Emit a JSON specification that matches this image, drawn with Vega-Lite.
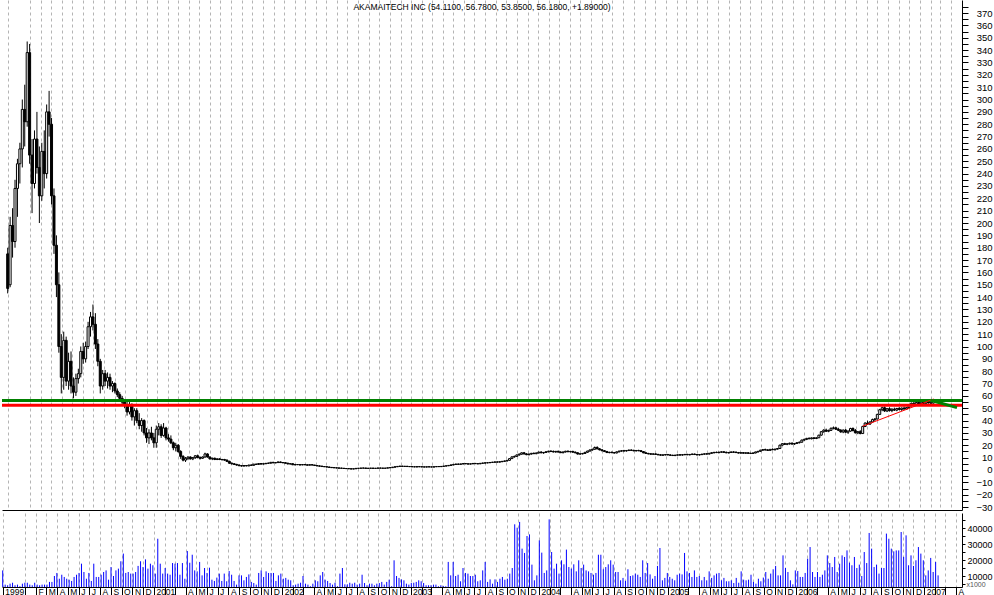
{
"$schema":"https://vega.github.io/schema/vega-lite/v6.json",
"padding":0,
"autosize":{"type":"pad"},
"spacing":1,
"config":{"view":{"stroke":null},"axis":{"labelOverlap":false,"gridColor":"#b4b4b4","gridDash":[3,3],"gridWidth":1,"domainColor":"#000000","domainWidth":1,"tickColor":"#000000","labelColor":"#000000","labelFont":"Liberation Sans","labelFontSize":9}},
"datasets":{
"levels":[{"level":56.2,"line":"resistance"},{"level":52.4,"line":"support"}],
"trend":[{"d":"2006-07-21","p":35.5,"line":"uptrend"},{"d":"2007-02-10","p":57.5,"line":"uptrend"},{"d":"2007-02-01","p":56.5,"line":"projection"},{"d":"2007-04-18","p":50.5,"line":"projection"}],
"weekly":[
{"d":"1999-10-29","o":175,"h":180,"l":143,"c":147,"v":13500},
{"d":"1999-11-05","o":150,"h":205,"l":148,"c":198,"v":4600},
{"d":"1999-11-12","o":198,"h":212,"l":172,"c":185,"v":4200},
{"d":"1999-11-19","o":185,"h":235,"l":180,"c":228,"v":5200},
{"d":"1999-11-26","o":228,"h":252,"l":205,"c":248,"v":5800},
{"d":"1999-12-03","o":248,"h":265,"l":232,"c":260,"v":4200},
{"d":"1999-12-10","o":260,"h":300,"l":245,"c":292,"v":4600},
{"d":"1999-12-17","o":292,"h":312,"l":262,"c":282,"v":3600},
{"d":"1999-12-24","o":282,"h":347,"l":278,"c":338,"v":5200},
{"d":"1999-12-31","o":338,"h":345,"l":248,"c":255,"v":5800},
{"d":"2000-01-07","o":255,"h":268,"l":208,"c":232,"v":5800},
{"d":"2000-01-14","o":232,"h":275,"l":228,"c":268,"v":4600},
{"d":"2000-01-21","o":268,"h":290,"l":240,"c":245,"v":4200},
{"d":"2000-01-28","o":245,"h":262,"l":200,"c":222,"v":5800},
{"d":"2000-02-04","o":222,"h":265,"l":218,"c":258,"v":4600},
{"d":"2000-02-11","o":258,"h":275,"l":228,"c":240,"v":4200},
{"d":"2000-02-18","o":240,"h":296,"l":236,"c":290,"v":4600},
{"d":"2000-02-25","o":290,"h":307,"l":270,"c":280,"v":4600},
{"d":"2000-03-03","o":280,"h":285,"l":215,"c":222,"v":4600},
{"d":"2000-03-10","o":222,"h":228,"l":175,"c":182,"v":6300},
{"d":"2000-03-17","o":182,"h":190,"l":140,"c":150,"v":6300},
{"d":"2000-03-24","o":150,"h":160,"l":95,"c":100,"v":10000},
{"d":"2000-03-31","o":100,"h":110,"l":62,"c":75,"v":11900},
{"d":"2000-04-07","o":75,"h":112,"l":65,"c":105,"v":8300},
{"d":"2000-04-14","o":105,"h":108,"l":68,"c":72,"v":10800},
{"d":"2000-04-21","o":72,"h":95,"l":65,"c":88,"v":9400},
{"d":"2000-04-28","o":88,"h":96,"l":62,"c":68,"v":8300},
{"d":"2000-05-05","o":68,"h":75,"l":58,"c":63,"v":7700},
{"d":"2000-05-12","o":63,"h":78,"l":60,"c":74,"v":6900},
{"d":"2000-05-19","o":74,"h":82,"l":70,"c":78,"v":9400},
{"d":"2000-05-26","o":78,"h":100,"l":75,"c":96,"v":10800},
{"d":"2000-06-02","o":96,"h":103,"l":86,"c":90,"v":11900},
{"d":"2000-06-09","o":90,"h":104,"l":87,"c":100,"v":17700},
{"d":"2000-06-16","o":100,"h":120,"l":98,"c":116,"v":12500},
{"d":"2000-06-23","o":116,"h":128,"l":108,"c":124,"v":8300},
{"d":"2000-06-30","o":124,"h":134,"l":113,"c":118,"v":11900},
{"d":"2000-07-07","o":118,"h":127,"l":98,"c":102,"v":6900},
{"d":"2000-07-14","o":102,"h":106,"l":84,"c":88,"v":17700},
{"d":"2000-07-21","o":88,"h":90,"l":62,"c":68,"v":9400},
{"d":"2000-07-28","o":68,"h":81,"l":65,"c":78,"v":9400},
{"d":"2000-08-04","o":78,"h":81,"l":68,"c":72,"v":10800},
{"d":"2000-08-11","o":72,"h":79,"l":66,"c":75,"v":12500},
{"d":"2000-08-18","o":75,"h":78,"l":65,"c":68,"v":13500},
{"d":"2000-08-25","o":68,"h":72,"l":63,"c":70,"v":7700},
{"d":"2000-09-01","o":70,"h":71,"l":62,"c":64,"v":15600},
{"d":"2000-09-08","o":64,"h":66,"l":59,"c":61,"v":10000},
{"d":"2000-09-15","o":61,"h":63,"l":57,"c":58,"v":13500},
{"d":"2000-09-22","o":58,"h":60,"l":52,"c":55,"v":14600},
{"d":"2000-09-29","o":55,"h":57,"l":50,"c":53,"v":19200},
{"d":"2000-10-06","o":53,"h":56,"l":44,"c":47,"v":24000},
{"d":"2000-10-13","o":47,"h":55,"l":45,"c":52,"v":11900},
{"d":"2000-10-20","o":52,"h":54,"l":40,"c":43,"v":12500},
{"d":"2000-10-27","o":43,"h":50,"l":36,"c":48,"v":11500},
{"d":"2000-11-03","o":48,"h":50,"l":38,"c":40,"v":11500},
{"d":"2000-11-10","o":40,"h":46,"l":33,"c":36,"v":12500},
{"d":"2000-11-17","o":36,"h":42,"l":31,"c":40,"v":16300},
{"d":"2000-11-24","o":40,"h":41,"l":28,"c":30,"v":19200},
{"d":"2000-12-01","o":30,"h":34,"l":22,"c":26,"v":15600},
{"d":"2000-12-08","o":26,"h":33,"l":21,"c":30,"v":20400},
{"d":"2000-12-15","o":30,"h":35,"l":24,"c":26,"v":14600},
{"d":"2000-12-22","o":26,"h":30,"l":18,"c":22,"v":17700},
{"d":"2000-12-29","o":22,"h":36,"l":18,"c":33,"v":16700},
{"d":"2001-01-05","o":33,"h":38,"l":28,"c":35,"v":11500},
{"d":"2001-01-12","o":35,"h":37,"l":26,"c":28,"v":33300},
{"d":"2001-01-19","o":28,"h":38,"l":27,"c":34,"v":17700},
{"d":"2001-01-26","o":34,"h":35,"l":24,"c":26,"v":11500},
{"d":"2001-02-02","o":26,"h":29,"l":23,"c":25,"v":15000},
{"d":"2001-02-09","o":25,"h":28,"l":21,"c":22,"v":11500},
{"d":"2001-02-16","o":22,"h":23,"l":16,"c":18,"v":10800},
{"d":"2001-02-23","o":18,"h":22,"l":15,"c":20,"v":18100},
{"d":"2001-03-02","o":20,"h":21,"l":14,"c":15,"v":17700},
{"d":"2001-03-09","o":15,"h":16,"l":9,"c":11,"v":18100},
{"d":"2001-03-16","o":11,"h":12,"l":7,"c":8,"v":10800},
{"d":"2001-03-23","o":8,"h":10.5,"l":6.5,"c":9.5,"v":18100},
{"d":"2001-03-30","o":9.5,"h":11,"l":8,"c":10.5,"v":8300},
{"d":"2001-04-06","o":10.5,"h":11,"l":8.5,"c":9,"v":25600},
{"d":"2001-04-13","o":9,"h":10.5,"l":8,"c":10,"v":18300},
{"d":"2001-04-20","o":10,"h":12,"l":9,"c":11.5,"v":23300},
{"d":"2001-04-27","o":11.5,"h":12.5,"l":9.5,"c":10,"v":13500},
{"d":"2001-05-04","o":10,"h":11,"l":8.5,"c":9.5,"v":12900},
{"d":"2001-05-11","o":9.5,"h":11,"l":9,"c":10.5,"v":18800},
{"d":"2001-05-18","o":10.5,"h":14,"l":10,"c":13,"v":10400},
{"d":"2001-05-25","o":13,"h":13.5,"l":10,"c":10.5,"v":15000},
{"d":"2001-06-01","o":10.5,"h":11,"l":8.5,"c":9,"v":11900},
{"d":"2001-06-08","o":9,"h":10,"l":8,"c":9.5,"v":15200},
{"d":"2001-06-15","o":9.5,"h":10,"l":8,"c":8.5,"v":7700},
{"d":"2001-06-22","o":8.5,"h":9.5,"l":8,"c":9,"v":6900},
{"d":"2001-06-29","o":9,"h":9.5,"l":8,"c":8.5,"v":9000},
{"d":"2001-07-06","o":8.5,"h":9,"l":7.5,"c":8.5,"v":11500},
{"d":"2001-07-13","o":8.5,"h":9,"l":7.5,"c":8,"v":6900},
{"d":"2001-07-20","o":8,"h":8.5,"l":6.5,"c":7,"v":11500},
{"d":"2001-07-27","o":7,"h":7.5,"l":5,"c":5.5,"v":6700},
{"d":"2001-08-03","o":5.5,"h":6,"l":4.5,"c":5,"v":13100},
{"d":"2001-08-10","o":5,"h":5.5,"l":4,"c":4.5,"v":10800},
{"d":"2001-08-17","o":4.5,"h":5,"l":3.5,"c":4,"v":6900},
{"d":"2001-08-24","o":4,"h":4.5,"l":3,"c":3.5,"v":4600},
{"d":"2001-08-31","o":3.5,"h":4,"l":2.8,"c":3.2,"v":10400},
{"d":"2001-09-07","o":3.2,"h":4,"l":2.9,"c":3.6,"v":10400},
{"d":"2001-09-14","o":3.6,"h":4,"l":3,"c":3.3,"v":7300},
{"d":"2001-09-21","o":3.3,"h":4.2,"l":3.1,"c":4,"v":9400},
{"d":"2001-09-28","o":4,"h":4.5,"l":3.5,"c":3.8,"v":11000},
{"d":"2001-10-05","o":3.8,"h":5,"l":3.6,"c":4.7,"v":6300},
{"d":"2001-10-12","o":4.7,"h":5.2,"l":4.2,"c":4.5,"v":5600},
{"d":"2001-10-19","o":4.5,"h":5.5,"l":4.3,"c":5.2,"v":4600},
{"d":"2001-10-26","o":5.2,"h":5.5,"l":4.5,"c":4.8,"v":11900},
{"d":"2001-11-02","o":4.8,"h":5.4,"l":4.5,"c":5.1,"v":13500},
{"d":"2001-11-09","o":5.1,"h":5.6,"l":4.7,"c":5.4,"v":9400},
{"d":"2001-11-16","o":5.4,"h":6,"l":5,"c":5.5,"v":12900},
{"d":"2001-11-23","o":5.5,"h":6.5,"l":5.2,"c":6.2,"v":11900},
{"d":"2001-11-30","o":6.2,"h":6.6,"l":5.5,"c":5.8,"v":11900},
{"d":"2001-12-07","o":5.8,"h":6.2,"l":5.4,"c":6,"v":11900},
{"d":"2001-12-14","o":6,"h":6.8,"l":5.7,"c":6.5,"v":6900},
{"d":"2001-12-21","o":6.5,"h":6.8,"l":5.8,"c":6,"v":10400},
{"d":"2001-12-28","o":6,"h":6.4,"l":5.5,"c":5.9,"v":11500},
{"d":"2002-01-04","o":5.9,"h":6.2,"l":5.2,"c":5.5,"v":8300},
{"d":"2002-01-11","o":5.5,"h":5.8,"l":4.6,"c":4.9,"v":8800},
{"d":"2002-01-18","o":4.9,"h":5.3,"l":4.5,"c":5.1,"v":7700},
{"d":"2002-01-25","o":5.1,"h":5.3,"l":4,"c":4.2,"v":7300},
{"d":"2002-02-01","o":4.2,"h":4.6,"l":3.8,"c":4.4,"v":4200},
{"d":"2002-02-08","o":4.4,"h":4.8,"l":4,"c":4.3,"v":4600},
{"d":"2002-02-15","o":4.3,"h":4.7,"l":3.8,"c":4.1,"v":5200},
{"d":"2002-02-22","o":4.1,"h":4.6,"l":3.9,"c":4.4,"v":5800},
{"d":"2002-03-01","o":4.4,"h":4.8,"l":4,"c":4.2,"v":10000},
{"d":"2002-03-08","o":4.2,"h":4.5,"l":3.7,"c":3.9,"v":5200},
{"d":"2002-03-15","o":3.9,"h":4.5,"l":3.8,"c":4.3,"v":4600},
{"d":"2002-03-22","o":4.3,"h":4.6,"l":3.9,"c":4,"v":3600},
{"d":"2002-03-29","o":4,"h":4.2,"l":3.4,"c":3.6,"v":5200},
{"d":"2002-04-05","o":3.6,"h":3.9,"l":3.1,"c":3.3,"v":7300},
{"d":"2002-04-12","o":3.3,"h":3.6,"l":2.8,"c":3.1,"v":6700},
{"d":"2002-04-19","o":3.1,"h":3.4,"l":2.6,"c":2.8,"v":10400},
{"d":"2002-04-26","o":2.8,"h":3.1,"l":2.4,"c":2.6,"v":12500},
{"d":"2002-05-03","o":2.6,"h":2.9,"l":2.2,"c":2.4,"v":7700},
{"d":"2002-05-10","o":2.4,"h":2.6,"l":1.9,"c":2.1,"v":6900},
{"d":"2002-05-17","o":2.1,"h":2.4,"l":1.7,"c":1.9,"v":5600},
{"d":"2002-05-24","o":1.9,"h":2.2,"l":1.6,"c":1.8,"v":4600},
{"d":"2002-05-31","o":1.8,"h":2,"l":1.4,"c":1.6,"v":5800},
{"d":"2002-06-07","o":1.6,"h":1.9,"l":1.3,"c":1.5,"v":3600},
{"d":"2002-06-14","o":1.5,"h":1.8,"l":1.2,"c":1.4,"v":11500},
{"d":"2002-06-21","o":1.4,"h":1.6,"l":1,"c":1.2,"v":15000},
{"d":"2002-06-28","o":1.2,"h":1.4,"l":0.9,"c":1.1,"v":4800},
{"d":"2002-07-05","o":1.1,"h":1.3,"l":0.8,"c":1,"v":4800},
{"d":"2002-07-12","o":1,"h":1.2,"l":0.6,"c":0.8,"v":5800},
{"d":"2002-07-19","o":0.8,"h":1.1,"l":0.6,"c":1,"v":5200},
{"d":"2002-07-26","o":1,"h":1.4,"l":0.9,"c":1.3,"v":5800},
{"d":"2002-08-02","o":1.3,"h":1.6,"l":1.1,"c":1.4,"v":4600},
{"d":"2002-08-09","o":1.4,"h":1.7,"l":1.2,"c":1.5,"v":5200},
{"d":"2002-08-16","o":1.5,"h":1.8,"l":1.3,"c":1.6,"v":10800},
{"d":"2002-08-23","o":1.6,"h":1.7,"l":1.2,"c":1.3,"v":5600},
{"d":"2002-08-30","o":1.3,"h":1.5,"l":1.1,"c":1.4,"v":4200},
{"d":"2002-09-06","o":1.4,"h":1.6,"l":1.2,"c":1.5,"v":5200},
{"d":"2002-09-13","o":1.5,"h":1.7,"l":1.2,"c":1.3,"v":5200},
{"d":"2002-09-20","o":1.3,"h":1.5,"l":1.1,"c":1.4,"v":4200},
{"d":"2002-09-27","o":1.4,"h":1.7,"l":1.3,"c":1.6,"v":5200},
{"d":"2002-10-04","o":1.6,"h":1.8,"l":1.4,"c":1.5,"v":5600},
{"d":"2002-10-11","o":1.5,"h":1.7,"l":1.3,"c":1.4,"v":6300},
{"d":"2002-10-18","o":1.4,"h":1.6,"l":1.2,"c":1.5,"v":4600},
{"d":"2002-10-25","o":1.5,"h":1.9,"l":1.4,"c":1.8,"v":6300},
{"d":"2002-11-01","o":1.8,"h":2.1,"l":1.6,"c":1.9,"v":7700},
{"d":"2002-11-08","o":1.9,"h":2.4,"l":1.8,"c":2.3,"v":3600},
{"d":"2002-11-15","o":2.3,"h":2.8,"l":2.1,"c":2.6,"v":19800},
{"d":"2002-11-22","o":2.6,"h":3.1,"l":2.4,"c":2.9,"v":10000},
{"d":"2002-11-29","o":2.9,"h":3.3,"l":2.6,"c":3.1,"v":8800},
{"d":"2002-12-06","o":3.1,"h":3.4,"l":2.7,"c":2.9,"v":7900},
{"d":"2002-12-13","o":2.9,"h":3.2,"l":2.6,"c":3,"v":7300},
{"d":"2002-12-20","o":3,"h":3.3,"l":2.7,"c":2.8,"v":5200},
{"d":"2002-12-27","o":2.8,"h":3.1,"l":2.5,"c":2.7,"v":4600},
{"d":"2003-01-03","o":2.7,"h":3,"l":2.4,"c":2.6,"v":5600},
{"d":"2003-01-10","o":2.6,"h":2.9,"l":2.3,"c":2.5,"v":5800},
{"d":"2003-01-17","o":2.5,"h":2.8,"l":2.2,"c":2.7,"v":6300},
{"d":"2003-01-24","o":2.7,"h":3,"l":2.4,"c":2.6,"v":7300},
{"d":"2003-01-31","o":2.6,"h":2.9,"l":2.3,"c":2.5,"v":6700},
{"d":"2003-02-07","o":2.5,"h":2.8,"l":2.2,"c":2.4,"v":5600},
{"d":"2003-02-14","o":2.4,"h":2.7,"l":2.1,"c":2.6,"v":4200},
{"d":"2003-02-21","o":2.6,"h":2.9,"l":2.3,"c":2.5,"v":4200},
{"d":"2003-02-28","o":2.5,"h":2.7,"l":2.2,"c":2.4,"v":4200},
{"d":"2003-03-07","o":2.4,"h":2.7,"l":2.2,"c":2.6,"v":4600},
{"d":"2003-03-14","o":2.6,"h":2.9,"l":2.4,"c":2.8,"v":4600},
{"d":"2003-03-21","o":2.8,"h":3.1,"l":2.5,"c":2.7,"v":3600},
{"d":"2003-03-28","o":2.7,"h":3,"l":2.4,"c":2.9,"v":4200},
{"d":"2003-04-04","o":2.9,"h":3.3,"l":2.7,"c":3.2,"v":3800},
{"d":"2003-04-11","o":3.2,"h":3.6,"l":3,"c":3.4,"v":3600},
{"d":"2003-04-18","o":3.4,"h":3.9,"l":3.2,"c":3.7,"v":18800},
{"d":"2003-04-25","o":3.7,"h":4.3,"l":3.5,"c":4.1,"v":10400},
{"d":"2003-05-02","o":4.1,"h":4.7,"l":3.9,"c":4.5,"v":18800},
{"d":"2003-05-09","o":4.5,"h":5,"l":4.2,"c":4.8,"v":10000},
{"d":"2003-05-16","o":4.8,"h":5.2,"l":4.4,"c":4.6,"v":10800},
{"d":"2003-05-23","o":4.6,"h":5,"l":4.3,"c":4.9,"v":6700},
{"d":"2003-05-30","o":4.9,"h":5.4,"l":4.6,"c":5.2,"v":15000},
{"d":"2003-06-06","o":5.2,"h":5.6,"l":4.8,"c":5,"v":11900},
{"d":"2003-06-13","o":5,"h":5.3,"l":4.6,"c":4.8,"v":11500},
{"d":"2003-06-20","o":4.8,"h":5.2,"l":4.5,"c":5,"v":10000},
{"d":"2003-06-27","o":5,"h":5.5,"l":4.8,"c":5.3,"v":10000},
{"d":"2003-07-04","o":5.3,"h":5.7,"l":4.9,"c":5.1,"v":10800},
{"d":"2003-07-11","o":5.1,"h":5.4,"l":4.7,"c":5,"v":6700},
{"d":"2003-07-18","o":5,"h":5.6,"l":4.8,"c":5.4,"v":7300},
{"d":"2003-07-25","o":5.4,"h":5.9,"l":5.1,"c":5.6,"v":13500},
{"d":"2003-08-01","o":5.6,"h":6.1,"l":5.3,"c":5.8,"v":18800},
{"d":"2003-08-08","o":5.8,"h":6.2,"l":5.4,"c":5.9,"v":6300},
{"d":"2003-08-15","o":5.9,"h":6.4,"l":5.6,"c":6.1,"v":7900},
{"d":"2003-08-22","o":6.1,"h":6.6,"l":5.8,"c":6.3,"v":5200},
{"d":"2003-08-29","o":6.3,"h":6.8,"l":5.9,"c":6.5,"v":7900},
{"d":"2003-09-05","o":6.5,"h":7,"l":6.1,"c":6.4,"v":6300},
{"d":"2003-09-12","o":6.4,"h":6.9,"l":6,"c":6.7,"v":8300},
{"d":"2003-09-19","o":6.7,"h":7.3,"l":6.4,"c":7,"v":9400},
{"d":"2003-09-26","o":7,"h":7.6,"l":6.7,"c":7.3,"v":7700},
{"d":"2003-10-03","o":7.3,"h":8,"l":7,"c":7.8,"v":8300},
{"d":"2003-10-10","o":7.8,"h":9.6,"l":7.6,"c":9.2,"v":11500},
{"d":"2003-10-17","o":9.2,"h":11,"l":9,"c":10.6,"v":15000},
{"d":"2003-10-24","o":10.6,"h":11.6,"l":10,"c":11,"v":42300},
{"d":"2003-10-31","o":11,"h":12.5,"l":10.6,"c":12.2,"v":40200},
{"d":"2003-11-07","o":12.2,"h":13.4,"l":11.6,"c":12.8,"v":43800},
{"d":"2003-11-14","o":12.8,"h":14.2,"l":12.4,"c":13.9,"v":27100},
{"d":"2003-11-21","o":13.9,"h":14.6,"l":12.6,"c":13,"v":24400},
{"d":"2003-11-28","o":13,"h":13.6,"l":12,"c":12.4,"v":35000},
{"d":"2003-12-05","o":12.4,"h":13.2,"l":11.8,"c":12.9,"v":36000},
{"d":"2003-12-12","o":12.9,"h":13.8,"l":12.5,"c":13.5,"v":17100},
{"d":"2003-12-19","o":13.5,"h":14.2,"l":12.9,"c":13.2,"v":7300},
{"d":"2003-12-26","o":13.2,"h":14,"l":12.8,"c":13.8,"v":10400},
{"d":"2004-01-02","o":13.8,"h":14.8,"l":13.4,"c":14.5,"v":32300},
{"d":"2004-01-09","o":14.5,"h":15.2,"l":13.6,"c":13.9,"v":24600},
{"d":"2004-01-16","o":13.9,"h":14.6,"l":13.1,"c":14.2,"v":11900},
{"d":"2004-01-23","o":14.2,"h":15,"l":13.8,"c":14.8,"v":13500},
{"d":"2004-01-30","o":14.8,"h":15.6,"l":14.2,"c":15.2,"v":45400},
{"d":"2004-02-06","o":15.2,"h":16,"l":14.5,"c":15,"v":25000},
{"d":"2004-02-13","o":15,"h":15.8,"l":14.2,"c":14.6,"v":14600},
{"d":"2004-02-20","o":14.6,"h":15.4,"l":14,"c":15.1,"v":17700},
{"d":"2004-02-27","o":15.1,"h":15.7,"l":14.3,"c":14.5,"v":11500},
{"d":"2004-03-05","o":14.5,"h":15.2,"l":13.7,"c":14,"v":19800},
{"d":"2004-03-12","o":14,"h":14.9,"l":13.5,"c":14.6,"v":17300},
{"d":"2004-03-19","o":14.6,"h":15.5,"l":14.2,"c":15.2,"v":26500},
{"d":"2004-03-26","o":15.2,"h":15.8,"l":14.4,"c":14.8,"v":15600},
{"d":"2004-04-02","o":14.8,"h":15.4,"l":14.2,"c":15,"v":14600},
{"d":"2004-04-09","o":15,"h":15.6,"l":14.1,"c":14.4,"v":17300},
{"d":"2004-04-16","o":14.4,"h":15,"l":13.6,"c":13.9,"v":12900},
{"d":"2004-04-23","o":13.9,"h":14.3,"l":12.6,"c":12.9,"v":19800},
{"d":"2004-04-30","o":12.9,"h":13.6,"l":12.4,"c":13.1,"v":15000},
{"d":"2004-05-07","o":13.1,"h":13.8,"l":12.6,"c":13.4,"v":17100},
{"d":"2004-05-14","o":13.4,"h":14.6,"l":13.1,"c":14.3,"v":13500},
{"d":"2004-05-21","o":14.3,"h":15.6,"l":14,"c":15.3,"v":12900},
{"d":"2004-05-28","o":15.3,"h":16.6,"l":15,"c":16.2,"v":11900},
{"d":"2004-06-04","o":16.2,"h":17.2,"l":15.6,"c":16.8,"v":10800},
{"d":"2004-06-11","o":16.8,"h":19,"l":16.4,"c":18.2,"v":11900},
{"d":"2004-06-18","o":18.2,"h":19.2,"l":16.8,"c":17.1,"v":23300},
{"d":"2004-06-25","o":17.1,"h":17.8,"l":15.9,"c":16.3,"v":23300},
{"d":"2004-07-02","o":16.3,"h":16.8,"l":15.2,"c":15.6,"v":14200},
{"d":"2004-07-09","o":15.6,"h":16.1,"l":14.6,"c":14.9,"v":15600},
{"d":"2004-07-16","o":14.9,"h":15.5,"l":13.8,"c":14.1,"v":17300},
{"d":"2004-07-23","o":14.1,"h":14.8,"l":13.5,"c":14.3,"v":19800},
{"d":"2004-07-30","o":14.3,"h":15,"l":13.7,"c":14,"v":17100},
{"d":"2004-08-06","o":14,"h":14.6,"l":13.3,"c":13.8,"v":12500},
{"d":"2004-08-13","o":13.8,"h":15,"l":13.5,"c":14.7,"v":12500},
{"d":"2004-08-20","o":14.7,"h":15.6,"l":14.3,"c":15.3,"v":7300},
{"d":"2004-08-27","o":15.3,"h":16,"l":14.8,"c":15.6,"v":8800},
{"d":"2004-09-03","o":15.6,"h":16.3,"l":15,"c":15.4,"v":6900},
{"d":"2004-09-10","o":15.4,"h":16,"l":14.9,"c":15.8,"v":14200},
{"d":"2004-09-17","o":15.8,"h":16.5,"l":15.3,"c":16.1,"v":10000},
{"d":"2004-09-24","o":16.1,"h":16.7,"l":15.5,"c":15.9,"v":10400},
{"d":"2004-10-01","o":15.9,"h":16.4,"l":15.2,"c":15.5,"v":11500},
{"d":"2004-10-08","o":15.5,"h":16.2,"l":15,"c":15.8,"v":10800},
{"d":"2004-10-15","o":15.8,"h":16.4,"l":15.2,"c":15.6,"v":9400},
{"d":"2004-10-22","o":15.6,"h":16,"l":14.6,"c":14.9,"v":19800},
{"d":"2004-10-29","o":14.9,"h":15.3,"l":13.6,"c":13.9,"v":11900},
{"d":"2004-11-05","o":13.9,"h":14.4,"l":13,"c":13.4,"v":18100},
{"d":"2004-11-12","o":13.4,"h":13.9,"l":12.6,"c":13.1,"v":11000},
{"d":"2004-11-19","o":13.1,"h":13.6,"l":12.4,"c":12.8,"v":8300},
{"d":"2004-11-26","o":12.8,"h":13.4,"l":12.2,"c":13,"v":10000},
{"d":"2004-12-03","o":13,"h":13.5,"l":12.3,"c":12.6,"v":16300},
{"d":"2004-12-10","o":12.6,"h":13.1,"l":11.9,"c":12.3,"v":27500},
{"d":"2004-12-17","o":12.3,"h":12.8,"l":11.6,"c":12,"v":7300},
{"d":"2004-12-24","o":12,"h":12.6,"l":11.4,"c":12.2,"v":8800},
{"d":"2004-12-31","o":12.2,"h":12.9,"l":11.8,"c":12.5,"v":11900},
{"d":"2005-01-07","o":12.5,"h":13,"l":11.9,"c":12.2,"v":9400},
{"d":"2005-01-14","o":12.2,"h":12.7,"l":11.5,"c":11.9,"v":8300},
{"d":"2005-01-21","o":11.9,"h":12.4,"l":11.3,"c":11.7,"v":7300},
{"d":"2005-01-28","o":11.7,"h":12.3,"l":11.2,"c":12,"v":10800},
{"d":"2005-02-04","o":12,"h":12.6,"l":11.6,"c":12.3,"v":11500},
{"d":"2005-02-11","o":12.3,"h":12.8,"l":11.8,"c":12.1,"v":11000},
{"d":"2005-02-18","o":12.1,"h":12.7,"l":11.6,"c":12.4,"v":24400},
{"d":"2005-02-25","o":12.4,"h":13,"l":11.9,"c":12.6,"v":12900},
{"d":"2005-03-04","o":12.6,"h":13.1,"l":12,"c":12.3,"v":11900},
{"d":"2005-03-11","o":12.3,"h":12.9,"l":11.8,"c":12.6,"v":9400},
{"d":"2005-03-18","o":12.6,"h":13.2,"l":12.1,"c":12.9,"v":13500},
{"d":"2005-03-25","o":12.9,"h":13.3,"l":12.2,"c":12.5,"v":9400},
{"d":"2005-04-01","o":12.5,"h":13,"l":11.9,"c":12.2,"v":10000},
{"d":"2005-04-08","o":12.2,"h":12.8,"l":11.7,"c":12.5,"v":7300},
{"d":"2005-04-15","o":12.5,"h":13.1,"l":12,"c":12.8,"v":9400},
{"d":"2005-04-22","o":12.8,"h":13.4,"l":12.3,"c":13.1,"v":7300},
{"d":"2005-04-29","o":13.1,"h":13.6,"l":12.5,"c":12.9,"v":12900},
{"d":"2005-05-06","o":12.9,"h":13.8,"l":12.6,"c":13.5,"v":8800},
{"d":"2005-05-13","o":13.5,"h":14.3,"l":13.1,"c":14,"v":10400},
{"d":"2005-05-20","o":14,"h":14.6,"l":13.4,"c":14.3,"v":11500},
{"d":"2005-05-27","o":14.3,"h":14.9,"l":13.7,"c":14.1,"v":11900},
{"d":"2005-06-03","o":14.1,"h":14.7,"l":13.5,"c":14.4,"v":7300},
{"d":"2005-06-10","o":14.4,"h":15.1,"l":13.9,"c":14.7,"v":8800},
{"d":"2005-06-17","o":14.7,"h":15.2,"l":14,"c":14.3,"v":6700},
{"d":"2005-06-24","o":14.3,"h":14.9,"l":13.6,"c":13.9,"v":6700},
{"d":"2005-07-01","o":13.9,"h":14.5,"l":13.3,"c":14.2,"v":7300},
{"d":"2005-07-08","o":14.2,"h":14.9,"l":13.8,"c":14.6,"v":5600},
{"d":"2005-07-15","o":14.6,"h":15.2,"l":14,"c":14.4,"v":8800},
{"d":"2005-07-22","o":14.4,"h":15,"l":13.8,"c":14.1,"v":5800},
{"d":"2005-07-29","o":14.1,"h":14.6,"l":13.4,"c":13.7,"v":12900},
{"d":"2005-08-05","o":13.7,"h":14.3,"l":13.2,"c":14,"v":7700},
{"d":"2005-08-12","o":14,"h":14.5,"l":13.3,"c":13.6,"v":7300},
{"d":"2005-08-19","o":13.6,"h":14.2,"l":13.1,"c":13.9,"v":7700},
{"d":"2005-08-26","o":13.9,"h":14.4,"l":13.2,"c":13.5,"v":10800},
{"d":"2005-09-02","o":13.5,"h":14,"l":12.9,"c":13.4,"v":6300},
{"d":"2005-09-09","o":13.4,"h":14.1,"l":13,"c":13.8,"v":5200},
{"d":"2005-09-16","o":13.8,"h":14.8,"l":13.5,"c":14.6,"v":8300},
{"d":"2005-09-23","o":14.6,"h":15.4,"l":14.2,"c":15.1,"v":6700},
{"d":"2005-09-30","o":15.1,"h":16.4,"l":14.8,"c":16,"v":9000},
{"d":"2005-10-07","o":16,"h":17,"l":15.6,"c":16.5,"v":12500},
{"d":"2005-10-14","o":16.5,"h":17.3,"l":15.9,"c":16.2,"v":8300},
{"d":"2005-10-21","o":16.2,"h":16.9,"l":15.5,"c":15.9,"v":11500},
{"d":"2005-10-28","o":15.9,"h":17,"l":15.6,"c":16.7,"v":14200},
{"d":"2005-11-04","o":16.7,"h":17.5,"l":16.1,"c":16.4,"v":16300},
{"d":"2005-11-11","o":16.4,"h":17.1,"l":15.8,"c":16.9,"v":10400},
{"d":"2005-11-18","o":16.9,"h":17.8,"l":16.5,"c":17.4,"v":10400},
{"d":"2005-11-25","o":17.4,"h":20.5,"l":17.2,"c":20.1,"v":22900},
{"d":"2005-12-02","o":20.1,"h":21.8,"l":19.6,"c":21.3,"v":15000},
{"d":"2005-12-09","o":21.3,"h":22,"l":20.3,"c":20.8,"v":12500},
{"d":"2005-12-16","o":20.8,"h":21.6,"l":20.1,"c":21.2,"v":7300},
{"d":"2005-12-23","o":21.2,"h":22.1,"l":20.5,"c":21.7,"v":4800},
{"d":"2005-12-30","o":21.7,"h":22.3,"l":20.6,"c":21,"v":13500},
{"d":"2006-01-06","o":21,"h":21.8,"l":20.3,"c":21.5,"v":13100},
{"d":"2006-01-13","o":21.5,"h":22.6,"l":21,"c":22.1,"v":9400},
{"d":"2006-01-20","o":22.1,"h":23,"l":21.5,"c":22.5,"v":9400},
{"d":"2006-01-27","o":22.5,"h":24.6,"l":22.2,"c":24.2,"v":11900},
{"d":"2006-02-03","o":24.2,"h":25.3,"l":23.6,"c":24.8,"v":20800},
{"d":"2006-02-10","o":24.8,"h":26,"l":24.2,"c":25.6,"v":28100},
{"d":"2006-02-17","o":25.6,"h":26.5,"l":24.9,"c":25.3,"v":12500},
{"d":"2006-02-24","o":25.3,"h":26.3,"l":24.8,"c":26,"v":9400},
{"d":"2006-03-03","o":26,"h":26.6,"l":25.1,"c":25.5,"v":12500},
{"d":"2006-03-10","o":25.5,"h":26.4,"l":25,"c":26.1,"v":9400},
{"d":"2006-03-17","o":26.1,"h":28.5,"l":25.8,"c":28.2,"v":10800},
{"d":"2006-03-24","o":28.2,"h":31.5,"l":27.9,"c":31,"v":13500},
{"d":"2006-03-31","o":31,"h":33,"l":30.2,"c":32.3,"v":22900},
{"d":"2006-04-07","o":32.3,"h":33.5,"l":30.8,"c":31.4,"v":18100},
{"d":"2006-04-14","o":31.4,"h":32.6,"l":30.6,"c":32.1,"v":15600},
{"d":"2006-04-21","o":32.1,"h":34.3,"l":31.6,"c":33.8,"v":21900},
{"d":"2006-04-28","o":33.8,"h":35.2,"l":32.9,"c":34.1,"v":12500},
{"d":"2006-05-05","o":34.1,"h":35,"l":32.5,"c":33,"v":17700},
{"d":"2006-05-12","o":33,"h":34.2,"l":31.5,"c":32.2,"v":22900},
{"d":"2006-05-19","o":32.2,"h":33.1,"l":30.2,"c":30.8,"v":21900},
{"d":"2006-05-26","o":30.8,"h":32.8,"l":29.8,"c":32.3,"v":26000},
{"d":"2006-06-02","o":32.3,"h":33.2,"l":30.1,"c":30.6,"v":18300},
{"d":"2006-06-09","o":30.6,"h":31.9,"l":29.2,"c":31.5,"v":16700},
{"d":"2006-06-16","o":31.5,"h":34.2,"l":31,"c":33.6,"v":21900},
{"d":"2006-06-23","o":33.6,"h":34.5,"l":31.3,"c":31.9,"v":15000},
{"d":"2006-06-30","o":31.9,"h":33.2,"l":29.6,"c":30.1,"v":17100},
{"d":"2006-07-07","o":30.1,"h":31.5,"l":29,"c":31,"v":10000},
{"d":"2006-07-14","o":31,"h":32.2,"l":28.9,"c":29.5,"v":25000},
{"d":"2006-07-21","o":29.5,"h":35.8,"l":29.3,"c":35.2,"v":18100},
{"d":"2006-07-28","o":35.2,"h":38.6,"l":34.8,"c":38,"v":36900},
{"d":"2006-08-04","o":38,"h":40,"l":36.5,"c":37.2,"v":27100},
{"d":"2006-08-11","o":37.2,"h":39.4,"l":36.6,"c":38.9,"v":15600},
{"d":"2006-08-18","o":38.9,"h":41.6,"l":38.2,"c":40.8,"v":17100},
{"d":"2006-08-25","o":40.8,"h":42,"l":39.5,"c":41.3,"v":11500},
{"d":"2006-09-01","o":41.3,"h":45.6,"l":40.9,"c":45,"v":15000},
{"d":"2006-09-08","o":45,"h":49.5,"l":44.6,"c":48.8,"v":15000},
{"d":"2006-09-15","o":48.8,"h":51.2,"l":47.6,"c":50.4,"v":36500},
{"d":"2006-09-22","o":50.4,"h":51.5,"l":47,"c":47.8,"v":33300},
{"d":"2006-09-29","o":47.8,"h":50.2,"l":46.9,"c":49.6,"v":27100},
{"d":"2006-10-06","o":49.6,"h":50.8,"l":47.3,"c":48.1,"v":25400},
{"d":"2006-10-13","o":48.1,"h":50,"l":46.8,"c":49.2,"v":26000},
{"d":"2006-10-20","o":49.2,"h":50.5,"l":47.8,"c":48.5,"v":26000},
{"d":"2006-10-27","o":48.5,"h":50.3,"l":47.6,"c":49.8,"v":37500},
{"d":"2006-11-03","o":49.8,"h":51,"l":48.4,"c":49,"v":21900},
{"d":"2006-11-10","o":49,"h":50.6,"l":47.9,"c":50.1,"v":35400},
{"d":"2006-11-17","o":50.1,"h":51.4,"l":48.8,"c":49.4,"v":16700},
{"d":"2006-11-24","o":49.4,"h":50.9,"l":48.6,"c":50.5,"v":22900},
{"d":"2006-12-01","o":50.5,"h":52.6,"l":50,"c":52.1,"v":16300},
{"d":"2006-12-08","o":52.1,"h":54.6,"l":51.5,"c":54,"v":19800},
{"d":"2006-12-15","o":54,"h":55.4,"l":52.3,"c":53.1,"v":28100},
{"d":"2006-12-22","o":53.1,"h":55,"l":52.4,"c":54.6,"v":24000},
{"d":"2006-12-29","o":54.6,"h":56,"l":53.2,"c":53.8,"v":19800},
{"d":"2007-01-05","o":53.8,"h":55.6,"l":52.9,"c":55,"v":10400},
{"d":"2007-01-12","o":55,"h":56.3,"l":53.5,"c":54,"v":13500},
{"d":"2007-01-19","o":54,"h":55.8,"l":53.1,"c":55.3,"v":21300},
{"d":"2007-01-26","o":55.3,"h":56.5,"l":53.8,"c":54.3,"v":12500},
{"d":"2007-02-02","o":54.3,"h":55.6,"l":53.5,"c":54.2,"v":18800},
{"d":"2007-02-09","o":54.11,"h":56.78,"l":53.85,"c":56.18,"v":10400}
]},
"vconcat":[
{
"width":960,"height":510,
"title":{"text":"AKAMAITECH INC (54.1100, 56.7800, 53.8500, 56.1800, +1.89000)","anchor":"middle","frame":"group","offset":-11,"fontSize":8.5,"font":"Liberation Sans","fontWeight":"normal","color":"#000000"},
"layer":[
{"data":{"name":"weekly"},"mark":{"type":"rule","color":"#000000","strokeWidth":1},
 "encoding":{
  "x":{"field":"d","type":"temporal","scale":{"type":"utc","domain":[{"year":1999,"month":10,"date":27,"utc":true},{"year":2007,"month":4,"date":18,"utc":true}]},
   "axis":{"orient":"bottom","title":null,"grid":true,"labels":false,"ticks":false,"domain":true,"tickCount":500,
   "values":[{"year":1999,"month":10,"date":29,"utc":true},
{"year":2000,"month":1,"utc":true},{"year":2000,"month":2,"utc":true},{"year":2000,"month":3,"utc":true},{"year":2000,"month":4,"utc":true},{"year":2000,"month":5,"utc":true},{"year":2000,"month":6,"utc":true},{"year":2000,"month":7,"utc":true},{"year":2000,"month":8,"utc":true},{"year":2000,"month":9,"utc":true},{"year":2000,"month":10,"utc":true},{"year":2000,"month":11,"utc":true},{"year":2000,"month":12,"utc":true},
{"year":2001,"month":1,"utc":true},{"year":2001,"month":2,"utc":true},{"year":2001,"month":3,"utc":true},{"year":2001,"month":4,"utc":true},{"year":2001,"month":5,"utc":true},{"year":2001,"month":6,"utc":true},{"year":2001,"month":7,"utc":true},{"year":2001,"month":8,"utc":true},{"year":2001,"month":9,"utc":true},{"year":2001,"month":10,"utc":true},{"year":2001,"month":11,"utc":true},{"year":2001,"month":12,"utc":true},
{"year":2002,"month":1,"utc":true},{"year":2002,"month":2,"utc":true},{"year":2002,"month":3,"utc":true},{"year":2002,"month":4,"utc":true},{"year":2002,"month":5,"utc":true},{"year":2002,"month":6,"utc":true},{"year":2002,"month":7,"utc":true},{"year":2002,"month":8,"utc":true},{"year":2002,"month":9,"utc":true},{"year":2002,"month":10,"utc":true},{"year":2002,"month":11,"utc":true},{"year":2002,"month":12,"utc":true},
{"year":2003,"month":1,"utc":true},{"year":2003,"month":2,"utc":true},{"year":2003,"month":3,"utc":true},{"year":2003,"month":4,"utc":true},{"year":2003,"month":5,"utc":true},{"year":2003,"month":6,"utc":true},{"year":2003,"month":7,"utc":true},{"year":2003,"month":8,"utc":true},{"year":2003,"month":9,"utc":true},{"year":2003,"month":10,"utc":true},{"year":2003,"month":11,"utc":true},{"year":2003,"month":12,"utc":true},
{"year":2004,"month":1,"utc":true},{"year":2004,"month":2,"utc":true},{"year":2004,"month":3,"utc":true},{"year":2004,"month":4,"utc":true},{"year":2004,"month":5,"utc":true},{"year":2004,"month":6,"utc":true},{"year":2004,"month":7,"utc":true},{"year":2004,"month":8,"utc":true},{"year":2004,"month":9,"utc":true},{"year":2004,"month":10,"utc":true},{"year":2004,"month":11,"utc":true},{"year":2004,"month":12,"utc":true},
{"year":2005,"month":1,"utc":true},{"year":2005,"month":2,"utc":true},{"year":2005,"month":3,"utc":true},{"year":2005,"month":4,"utc":true},{"year":2005,"month":5,"utc":true},{"year":2005,"month":6,"utc":true},{"year":2005,"month":7,"utc":true},{"year":2005,"month":8,"utc":true},{"year":2005,"month":9,"utc":true},{"year":2005,"month":10,"utc":true},{"year":2005,"month":11,"utc":true},{"year":2005,"month":12,"utc":true},
{"year":2006,"month":1,"utc":true},{"year":2006,"month":2,"utc":true},{"year":2006,"month":3,"utc":true},{"year":2006,"month":4,"utc":true},{"year":2006,"month":5,"utc":true},{"year":2006,"month":6,"utc":true},{"year":2006,"month":7,"utc":true},{"year":2006,"month":8,"utc":true},{"year":2006,"month":9,"utc":true},{"year":2006,"month":10,"utc":true},{"year":2006,"month":11,"utc":true},{"year":2006,"month":12,"utc":true},
{"year":2007,"month":1,"utc":true},{"year":2007,"month":2,"utc":true},{"year":2007,"month":3,"utc":true},{"year":2007,"month":4,"utc":true}]}},
  "y":{"field":"l","type":"quantitative","scale":{"domain":[-32.4,380.6],"nice":false,"zero":false},
   "axis":{"orient":"right","title":null,"grid":false,"labelOverlap":false,"tickCount":500,"values":[-30,-25,-20,-15,-10,-5,0,5,10,15,20,25,30,35,40,45,50,55,60,65,70,75,80,85,90,95,100,105,110,115,120,125,130,135,140,145,150,155,160,165,170,175,180,185,190,195,200,205,210,215,220,225,230,235,240,245,250,255,260,265,270,275,280,285,290,295,300,305,310,315,320,325,330,335,340,345,350,355,360,365,370,375],
   "format":"d","labelExpr":"datum.value % 10 == 0 ? datum.label : ''","tickSize":6,"labelAlign":"right","labelPadding":24,"labelFontSize":9.5,"labelBaseline":"middle"}},
  "y2":{"field":"h"}}},
{"data":{"name":"weekly"},"mark":{"type":"bar","width":2,"stroke":"#000000","strokeWidth":1},
 "encoding":{
  "x":{"field":"d","type":"temporal","scale":{"type":"utc","domain":[{"year":1999,"month":10,"date":27,"utc":true},{"year":2007,"month":4,"date":18,"utc":true}]}},
  "y":{"field":"o","type":"quantitative","scale":{"domain":[-32.4,380.6],"nice":false,"zero":false}},
  "y2":{"field":"c"},
  "fill":{"condition":{"test":"datum.c >= datum.o","value":"#ffffff"},"value":"#000000"}}},
{"data":{"name":"levels"},"mark":{"type":"rule","strokeWidth":3},
 "encoding":{
  "y":{"field":"level","type":"quantitative","scale":{"domain":[-32.4,380.6],"nice":false,"zero":false}},
  "color":{"field":"line","type":"nominal","scale":{"domain":["resistance","support","uptrend","projection"],"range":["#008000","#ff0000","#ff0000","#008000"]},"legend":null}}},
{"data":{"name":"trend"},"mark":{"type":"line"},
 "encoding":{
  "x":{"field":"d","type":"temporal","scale":{"type":"utc","domain":[{"year":1999,"month":10,"date":27,"utc":true},{"year":2007,"month":4,"date":18,"utc":true}]}},
  "y":{"field":"p","type":"quantitative","scale":{"domain":[-32.4,380.6],"nice":false,"zero":false}},
  "color":{"field":"line","type":"nominal","scale":{"domain":["resistance","support","uptrend","projection"],"range":["#008000","#ff0000","#ff0000","#008000"]},"legend":null},
  "strokeWidth":{"field":"line","type":"nominal","scale":{"domain":["uptrend","projection"],"range":[1,3]},"legend":null}}}
]
},
{
"width":960,"height":74,
"data":{"name":"weekly"},
"mark":{"type":"rule","color":"#0000ff","strokeWidth":1},
"encoding":{
 "x":{"field":"d","type":"temporal","scale":{"type":"utc","domain":[{"year":1999,"month":10,"date":27,"utc":true},{"year":2007,"month":4,"date":18,"utc":true}]},
  "axis":{"orient":"bottom","title":null,"grid":true,"domain":true,"ticks":true,"tickSize":10,"tickCount":500,"labelAlign":"left","labelBaseline":"top","labelPadding":-10,"labelOffset":2,"labelOverlap":false,"labelFlush":false,"labelBound":false,"labelFontSize":8.5,"labelLineHeight":9,
  "labelExpr":"utcyear(datum.value) == 1999 ? '1999' : (utcmonth(datum.value) == 0 ? (utcyear(datum.value) == 2000 ? '' : utcFormat(datum.value, '%Y')) : ((utcyear(datum.value) > 2000 && utcmonth(datum.value) <= 2) ? '' : slice(utcFormat(datum.value, '%b'), 0, 1)))",
  "values":[{"year":1999,"month":10,"date":29,"utc":true},
{"year":2000,"month":1,"utc":true},{"year":2000,"month":2,"utc":true},{"year":2000,"month":3,"utc":true},{"year":2000,"month":4,"utc":true},{"year":2000,"month":5,"utc":true},{"year":2000,"month":6,"utc":true},{"year":2000,"month":7,"utc":true},{"year":2000,"month":8,"utc":true},{"year":2000,"month":9,"utc":true},{"year":2000,"month":10,"utc":true},{"year":2000,"month":11,"utc":true},{"year":2000,"month":12,"utc":true},
{"year":2001,"month":1,"utc":true},{"year":2001,"month":2,"utc":true},{"year":2001,"month":3,"utc":true},{"year":2001,"month":4,"utc":true},{"year":2001,"month":5,"utc":true},{"year":2001,"month":6,"utc":true},{"year":2001,"month":7,"utc":true},{"year":2001,"month":8,"utc":true},{"year":2001,"month":9,"utc":true},{"year":2001,"month":10,"utc":true},{"year":2001,"month":11,"utc":true},{"year":2001,"month":12,"utc":true},
{"year":2002,"month":1,"utc":true},{"year":2002,"month":2,"utc":true},{"year":2002,"month":3,"utc":true},{"year":2002,"month":4,"utc":true},{"year":2002,"month":5,"utc":true},{"year":2002,"month":6,"utc":true},{"year":2002,"month":7,"utc":true},{"year":2002,"month":8,"utc":true},{"year":2002,"month":9,"utc":true},{"year":2002,"month":10,"utc":true},{"year":2002,"month":11,"utc":true},{"year":2002,"month":12,"utc":true},
{"year":2003,"month":1,"utc":true},{"year":2003,"month":2,"utc":true},{"year":2003,"month":3,"utc":true},{"year":2003,"month":4,"utc":true},{"year":2003,"month":5,"utc":true},{"year":2003,"month":6,"utc":true},{"year":2003,"month":7,"utc":true},{"year":2003,"month":8,"utc":true},{"year":2003,"month":9,"utc":true},{"year":2003,"month":10,"utc":true},{"year":2003,"month":11,"utc":true},{"year":2003,"month":12,"utc":true},
{"year":2004,"month":1,"utc":true},{"year":2004,"month":2,"utc":true},{"year":2004,"month":3,"utc":true},{"year":2004,"month":4,"utc":true},{"year":2004,"month":5,"utc":true},{"year":2004,"month":6,"utc":true},{"year":2004,"month":7,"utc":true},{"year":2004,"month":8,"utc":true},{"year":2004,"month":9,"utc":true},{"year":2004,"month":10,"utc":true},{"year":2004,"month":11,"utc":true},{"year":2004,"month":12,"utc":true},
{"year":2005,"month":1,"utc":true},{"year":2005,"month":2,"utc":true},{"year":2005,"month":3,"utc":true},{"year":2005,"month":4,"utc":true},{"year":2005,"month":5,"utc":true},{"year":2005,"month":6,"utc":true},{"year":2005,"month":7,"utc":true},{"year":2005,"month":8,"utc":true},{"year":2005,"month":9,"utc":true},{"year":2005,"month":10,"utc":true},{"year":2005,"month":11,"utc":true},{"year":2005,"month":12,"utc":true},
{"year":2006,"month":1,"utc":true},{"year":2006,"month":2,"utc":true},{"year":2006,"month":3,"utc":true},{"year":2006,"month":4,"utc":true},{"year":2006,"month":5,"utc":true},{"year":2006,"month":6,"utc":true},{"year":2006,"month":7,"utc":true},{"year":2006,"month":8,"utc":true},{"year":2006,"month":9,"utc":true},{"year":2006,"month":10,"utc":true},{"year":2006,"month":11,"utc":true},{"year":2006,"month":12,"utc":true},
{"year":2007,"month":1,"utc":true},{"year":2007,"month":2,"utc":true},{"year":2007,"month":3,"utc":true},{"year":2007,"month":4,"utc":true}]}},
 "y":{"field":"v","type":"quantitative","scale":{"domain":[3125,49375],"nice":false,"zero":false},
  "axis":{"orient":"right","grid":false,"labelOverlap":false,"tickCount":500,"values":[5000,10000,15000,20000,25000,30000,35000,40000,45000],"format":"d","labelExpr":"datum.value % 10000 == 0 ? datum.label : ''","tickSize":3,"labelPadding":2,"labelFontSize":9,"labelBaseline":"middle",
   "title":"x1000","titleAngle":0,"titleFontSize":7,"titleFontWeight":"normal","titleColor":"#555555","titleAlign":"left","titleBaseline":"bottom","titleX":4,"titleY":74}},
 "y2":{"datum":3125}
}
}
]
}
